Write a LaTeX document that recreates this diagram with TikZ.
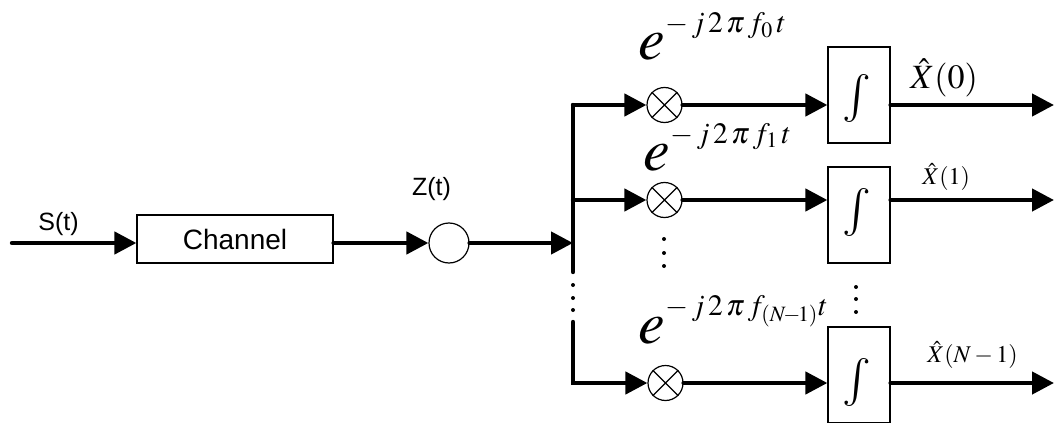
\documentclass[tikz,border=0pt]{standalone}
\usepackage{mathptmx}
\usepackage[no-math]{fontspec}
\newfontfamily\arialfont{Liberation Sans}
\usetikzlibrary{arrows.meta}

\begin{document}
\begin{tikzpicture}[x=.5pt,y=-.5pt,
  sig/.style={line width=2.2pt,line cap=round,-{Triangle[length=11pt,width=11pt]}},
  bus/.style={line width=2.2pt,line cap=round},
  blk/.style={draw,line width=.6pt,fill=white,inner sep=0pt},
  mixer/.style={draw,circle,line width=.6pt,fill=white,minimum size=17.5pt,inner sep=0pt},
  sflab/.style={anchor=base,inner sep=0pt,font=\arialfont\fontsize{12.5}{14}\selectfont},
  expo/.style={anchor=base west,inner sep=0pt,font=\fontsize{30}{32}\selectfont},
  intsign/.style={inner sep=0pt,font=\fontsize{24}{26}\selectfont},
  outlab/.style={anchor=base west,inner sep=0pt,font=\fontsize{12}{14}\selectfont}]
  \useasboundingbox (0,0) rectangle (1056,423);
  \node[blk,minimum width=98pt,minimum height=24pt,font=\arialfont\fontsize{14}{16}\selectfont] (chan) at (235,239) {Channel};
  \coordinate (src) at (12,243);
  \draw[sig] (src) -- (src -| chan.west);
  \node[sflab] (slab) at (58.5,230) {S(t)};
  \node[mixer,minimum size=20pt] (sum) at (449,243) {};
  \node[sflab] (zlab) at (431.5,195) {Z(t)};
  \draw[sig] (chan.east |- sum) -- (sum.west);
  \coordinate (bus) at (573,243);
  \draw[sig] (sum.east) -- (bus);
  \coordinate (b0) at (573,105);
  \coordinate (b1) at (573,200);
  \coordinate (bE) at (573,272);
  \coordinate (bF) at (573,322);
  \draw[bus] (b0) -- (bE);
  \foreach \y in {285,298,310} \fill (573,\y) circle (1pt);
  \node[mixer] (m0) at (664.5,105) {};
  \node[mixer] (m1) at (664.5,200) {};
  \node[mixer] (m2) at (665.5,383) {};
  \foreach \m in {m0,m1,m2}
    \draw[line width=.6pt] (\m.north east) -- (\m.south west) (\m.north west) -- (\m.south east);
  \draw[sig] (b0) -- (m0.west);
  \draw[sig] (b1) -- (m1.west);
  \draw[sig] (bF) |- (m2.west);
  \node[blk,minimum width=31pt,minimum height=48pt] (i0) at (859,95) {};
  \node[blk,minimum width=31pt,minimum height=48pt] (i1) at (859,215) {};
  \node[blk,minimum width=31pt,minimum height=48pt] (i2) at (859,375) {};
  \node[intsign] (s0) at (857,98) {$\int$};
  \node[intsign] (s1) at (857,212) {$\int$};
  \node[intsign] (s2) at (857,382) {$\int$};
  \draw[sig] (m0.east) -- (m0 -| i0.west);
  \draw[sig] (m1.east) -- (m1 -| i1.west);
  \draw[sig] (m2.east) -- (m2 -| i2.west);
  \coordinate (o0) at (1054,105);
  \coordinate (o1) at (1054,200);
  \coordinate (o2) at (1054,383);
  \draw[sig] (i0.east |- o0) -- (o0);
  \draw[sig] (i1.east |- o1) -- (o1);
  \draw[sig] (i2.east |- o2) -- (o2);
  \node[expo] (e0) at (638,60) {$e$\raisebox{13.5pt}{\fontsize{14.8}{16}\selectfont$-\,j\,2\,\pi\,f_0\,t$}};
  \node[expo] (e1) at (643,170) {$e$\raisebox{13.5pt}{\fontsize{14.8}{16}\selectfont$-\,j\,2\,\pi\,f_1\,t$}};
  \node[expo] (e2) at (638,343) {$e$\raisebox{14pt}{\fontsize{14.8}{16}\selectfont$-\,j\,2\,\pi\,f_{(N\!-\!1)}t$}};
  \node[outlab,font=\fontsize{17}{19}\selectfont] (x0) at (910,88) {$\hat{X}(0)$};
  \node[outlab] (x1) at (922,184) {$\hat{X}(1)$};
  \node[outlab] (x2) at (927,362) {$\hat{X}(N-1)$};
  \foreach \y in {239,253,266} \fill (664,\y) circle (1pt);
  \foreach \y in {287,299,312} \fill (856,\y) circle (1pt);
\end{tikzpicture}
\end{document}
